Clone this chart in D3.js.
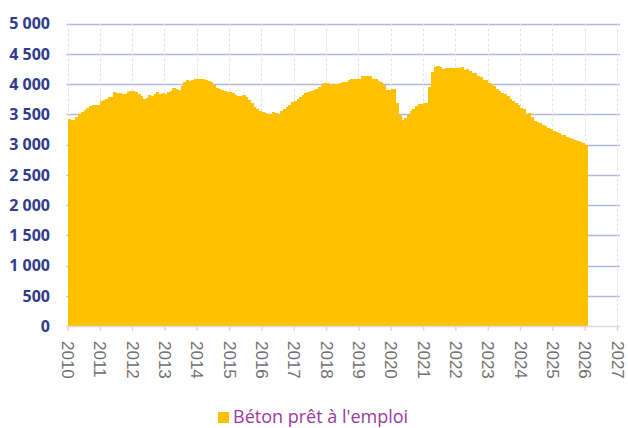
<!DOCTYPE html>
<html>
<head>
<meta charset="utf-8">
<script src="https://cdn.jsdelivr.net/npm/d3@7"></script>
<style>
  body { margin: 0; background: #fff; }
  svg { display: block; font-family: "Open Sans", sans-serif; }
  .y-label { font-size: 16px; font-weight: 700; fill: #2f3b8c; }
  .x-label { font-size: 17px; fill: #707070; }
  .legend-text { font-size: 18px; fill: #9b3a9b; }
</style>
</head>
<body>
<svg id="chart" width="628" height="428"></svg>
<script>
// données mensuelles, janvier 2010 -> janvier 2026
const seriesName = 'Béton prêt à l\'emploi'
const firstMonth = '2010-01'
const betonValues = [
  3420, 3400, 3400, 3450, 3500, 3540, 3570, 3600, 3640, 3660, 3660, 3660,
  3720, 3730, 3760, 3780, 3790, 3860, 3850, 3850, 3840, 3840, 3870, 3880,
  3880, 3860, 3830, 3800, 3750, 3770, 3810, 3800, 3830, 3860, 3840, 3850,
  3830, 3870, 3880, 3930, 3920, 3900, 3960, 4030, 4060, 4050, 4070, 4080,
  4080, 4090, 4080, 4070, 4050, 4030, 3990, 3940, 3910, 3900, 3880, 3870,
  3870, 3850, 3820, 3800, 3800, 3810, 3780, 3730, 3680, 3620, 3590, 3560,
  3530, 3520, 3510, 3500, 3540, 3520, 3490, 3550, 3590, 3620, 3660, 3700,
  3720, 3760, 3790, 3820, 3850, 3870, 3890, 3900, 3920, 3950, 3990, 4010,
  4010, 4000, 3990, 4000, 4000, 4010, 4030, 4040, 4070, 4080, 4080, 4080,
  4075, 4130, 4130, 4130, 4130, 4075, 4075, 4055, 4040, 3980, 3900, 3900,
  3910, 3910, 3680, 3485, 3400, 3440, 3485, 3550, 3580, 3630, 3665, 3665,
  3680, 3680, 3950, 4200, 4285, 4300, 4280, 4245, 4265, 4265, 4265, 4265,
  4260, 4270, 4275, 4230, 4255, 4220, 4190, 4180, 4130, 4120, 4070, 4060,
  4020, 4000, 3960, 3920, 3880, 3855, 3840, 3800, 3750, 3720, 3680, 3650,
  3610, 3590, 3500, 3520, 3460, 3390, 3370, 3350, 3320, 3300, 3280, 3250,
  3230, 3210, 3185, 3165, 3150, 3125, 3110, 3090, 3070, 3055, 3040, 3020,
  3000
]
const yTicks = [0, 500, 1000, 1500, 2000, 2500, 3000, 3500, 4000, 4500, 5000]
const xYears = [2010, 2011, 2012, 2013, 2014, 2015, 2016, 2017, 2018,
  2019, 2020, 2021, 2022, 2023, 2024, 2025, 2026, 2027]

const svg = d3.select('#chart')
const plotLeft = 67.5
const plotRight = 617
const plotTop = 23.5
const plotBottom = 326

const parseMonth = d3.timeParse('%Y-%m')
const start = parseMonth(firstMonth)
const data = betonValues.map((v, i) => ({ date: d3.timeMonth.offset(start, i), value: v }))

const x = d3.scaleTime()
  .domain([new Date(2010, 0, 1), new Date(2027, 0, 1)])
  .range([plotLeft, plotRight])
const y = d3.scaleLinear()
  .domain([0, 5000])
  .range([plotBottom, plotTop])

const fr = d3.formatLocale({ decimal: ',', thousands: ' ', grouping: [3], currency: ['', ' €'] })
const fmt = fr.format(',d')

// grille horizontale
svg.append('g')
  .selectAll('line')
  .data(yTicks.filter(d => d > 0))
  .join('line')
  .attr('x1', plotLeft - 1)
  .attr('x2', 620)
  .attr('y1', d => Math.round(y(d)) + 0.5)
  .attr('y2', d => Math.round(y(d)) + 0.5)
  .style('stroke', '#b3b7da')
  .style('stroke-width', 1.5)

// grille verticale (pointillés)
svg.append('g')
  .selectAll('line')
  .data(xYears)
  .join('line')
  .attr('x1', d => Math.round(x(new Date(d, 0, 1))) + 0.5)
  .attr('x2', d => Math.round(x(new Date(d, 0, 1))) + 0.5)
  .attr('y1', plotTop)
  .attr('y2', plotBottom)
  .style('stroke', '#e2e2e6')
  .style('stroke-dasharray', '3,2')

// barres mensuelles
svg.append('g')
  .selectAll('rect')
  .data(data)
  .join('rect')
  .attr('x', d => x(d.date))
  .attr('width', d => x(d3.timeMonth.offset(d.date, 1)) - x(d.date) + 0.4)
  .attr('y', d => y(d.value))
  .attr('height', d => y(0) - y(d.value))
  .style('fill', '#ffc000')
  .attr('shape-rendering', 'crispEdges')

// axe X
const xAxis = svg.append('g')
  .attr('transform', `translate(0,${plotBottom})`)
  .call(d3.axisBottom(x)
    .tickValues(xYears.map(d => new Date(d, 0, 1)))
    .tickSize(5)
    .tickFormat(d3.timeFormat('%Y')))
xAxis.select('.domain')
  .attr('d', `M${plotLeft - 1},0.5H620`)
  .style('stroke', '#d9d9d9')
  .style('stroke-width', 1.5)
xAxis.selectAll('.tick line').style('stroke', '#d9d9d9').style('stroke-width', 1.5)
xAxis.selectAll('.tick text')
  .attr('class', 'x-label')
  .attr('transform', 'rotate(90)')
  .attr('x', 15)
  .attr('y', 0)
  .attr('dy', '0.35em')
  .style('text-anchor', 'start')
  .style('font-family', null)
  .style('font-size', null)

// étiquettes Y
svg.append('g')
  .selectAll('text')
  .data(yTicks)
  .join('text')
  .attr('class', 'y-label')
  .attr('x', 50)
  .attr('y', d => y(d))
  .attr('dy', '0.36em')
  .style('text-anchor', 'end')
  .text(d => fmt(d))

// légende
const legend = svg.append('g').attr('transform', 'translate(218,412)')
legend.append('rect')
  .attr('width', 11)
  .attr('height', 11)
  .style('fill', '#ffc000')
legend.append('text')
  .attr('class', 'legend-text')
  .attr('x', 15)
  .attr('y', 11)
  .text(seriesName)
</script>
</body>
</html>
